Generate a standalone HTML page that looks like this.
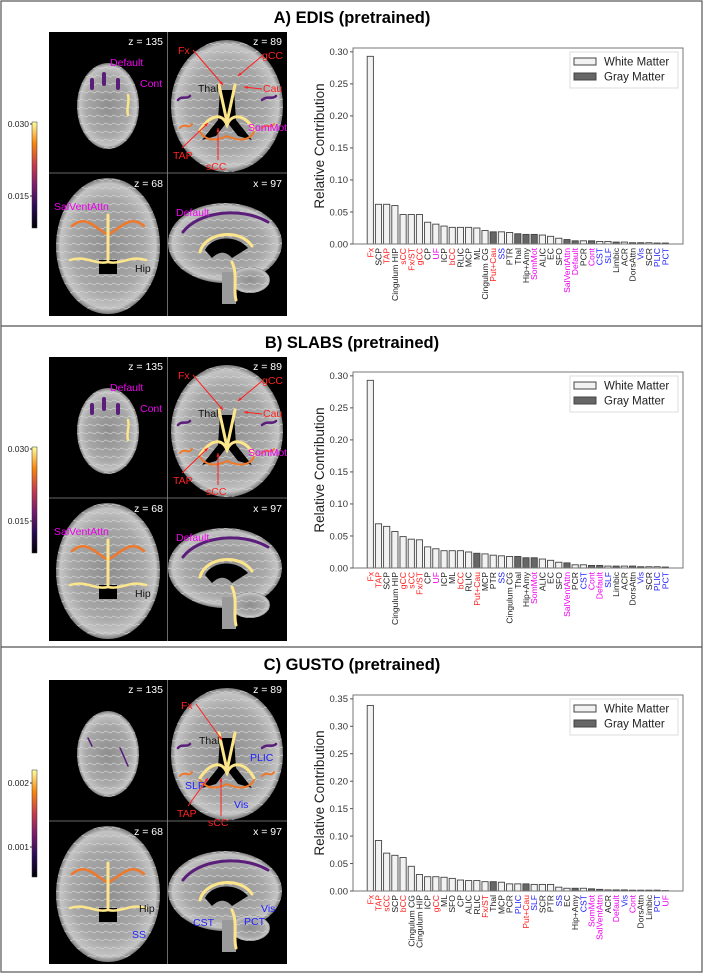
<!DOCTYPE html>
<html><head><meta charset="utf-8">
<style>
html,body{margin:0;padding:0;background:#fff;}
svg{display:block;font-family:"Liberation Sans",sans-serif;}
</style></head>
<body>
<svg id="fig" width="704" height="974" viewBox="0 0 704 974" xmlns="http://www.w3.org/2000/svg">
<defs>
<linearGradient id="inferno" x1="0" y1="1" x2="0" y2="0">
<stop offset="0" stop-color="#000004"/><stop offset="0.2" stop-color="#2a0b57"/>
<stop offset="0.4" stop-color="#7a1d6d"/><stop offset="0.6" stop-color="#c73e4c"/>
<stop offset="0.8" stop-color="#f8870e"/><stop offset="1" stop-color="#fcffa4"/>
</linearGradient>
<radialGradient id="brainG" cx="0.5" cy="0.5" r="0.5">
<stop offset="0" stop-color="#8e8e8e"/><stop offset="0.7" stop-color="#a8a8a8"/><stop offset="0.92" stop-color="#c4c4c4"/><stop offset="1" stop-color="#7a7a7a"/>
</radialGradient>
<pattern id="gyri" width="8" height="8" patternUnits="userSpaceOnUse">
<path d="M0,4 C2,1 6,7 8,4" fill="none" stroke="#d6d6d6" stroke-width="0.9" opacity="0.7"/>
</pattern>
</defs>
<rect x="1" y="1" width="701" height="971" fill="none" stroke="#555" stroke-width="1.2"/>
<line x1="1" y1="326" x2="702" y2="326" stroke="#555" stroke-width="1.2"/>
<line x1="1" y1="647" x2="702" y2="647" stroke="#555" stroke-width="1.2"/>
<g id="root"></g>
</svg>
<script>
const catsA = ["Fx","SCP","TAP","Cingulum HIP","sCC","Fx/ST","gCC","CP","UF","ICP","bCC","RLIC","MCP","ML","Cingulum CG","Put+Cau","SS","PTR","Thal","Hip+Amy","SomMot","ALIC","EC","SFO","SalVentAttn","Default","PCR","Cont","CST","SLF","Limbic","ACR","DorsAttn","Vis","SCR","PLIC","PCT"];
const valsA = [0.293,0.062,0.062,0.060,0.046,0.046,0.046,0.034,0.031,0.028,0.026,0.026,0.026,0.025,0.021,0.019,0.019,0.018,0.016,0.015,0.015,0.014,0.012,0.009,0.007,0.005,0.005,0.005,0.004,0.004,0.003,0.003,0.002,0.002,0.002,0.0015,0.0015];
const catsB = ["Fx","TAP","SCP","Cingulum HIP","gCC","sCC","Fx/ST","CP","UF","ICP","ML","bCC","RLIC","Put+Cau","MCP","PTR","SS","Cingulum CG","Thal","Hip+Amy","SomMot","ALIC","EC","SFO","SalVentAttn","PCR","CST","Cont","Default","SLF","Limbic","ACR","DorsAttn","Vis","SCR","PLIC","PCT"];
const valsB = [0.293,0.069,0.065,0.057,0.049,0.045,0.044,0.033,0.030,0.027,0.027,0.027,0.025,0.023,0.022,0.020,0.019,0.018,0.018,0.016,0.016,0.014,0.012,0.009,0.008,0.005,0.005,0.004,0.004,0.003,0.003,0.003,0.003,0.002,0.002,0.002,0.0015];
const catsC = ["Fx","TAP","sCC","SCP","bCC","Cingulum CG","Cingulum HIP","ICP","gCC","ML","SFO","CP","ALIC","RLIC","Fx/ST","Thal","MCP","PCR","PLIC","Put+Cau","SLF","SCR","PTR","SS","EC","Hip+Amy","CST","SomMot","SalVentAttn","ACR","Default","Vis","Cont","DorsAttn","Limbic","PCT","UF"];
const valsC = [0.338,0.092,0.069,0.065,0.061,0.045,0.030,0.026,0.026,0.025,0.023,0.020,0.019,0.019,0.017,0.017,0.016,0.013,0.013,0.013,0.012,0.012,0.012,0.007,0.005,0.005,0.005,0.004,0.003,0.002,0.002,0.002,0.0015,0.0015,0.0015,0.0015,0.0008];
const ticksAB = [0,0.05,0.10,0.15,0.20,0.25,0.30];
const ticksC = [0,0.05,0.10,0.15,0.20,0.25,0.30,0.35];
const grayMatter = ["Put+Cau","Thal","Hip+Amy","SomMot","SalVentAttn","Default","Cont","Limbic","DorsAttn","Vis"];
const redLabels = ["Fx","TAP","sCC","Fx/ST","gCC","bCC","Put+Cau"];
const magentaLabels = ["UF","SomMot","SalVentAttn","Default","Cont"];
const blueLabels = ["SS","CST","SLF","Vis","PLIC","PCT"];

const NS="http://www.w3.org/2000/svg";
const root=document.getElementById('root');
function mk(tag,attrs,parent,text){const e=document.createElementNS(NS,tag);for(const k in attrs)e.setAttribute(k,attrs[k]);if(text!==undefined)e.textContent=text;(parent||root).appendChild(e);return e;}
function labelColor(c){if(redLabels.includes(c))return"#ff2020";if(magentaLabels.includes(c))return"#ee00ee";if(blueLabels.includes(c))return"#2020ff";return"#222";}

function drawChart(oy,cats,vals,ticks,ymax,g){
  const L=353,R=683,T=48+oy,B=244+oy;
  const y=v=>B-(v/ymax)*(B-T);
  const x0=370.3,step=(665.3-370.3)/(cats.length-1);
  const x=i=>x0+i*step;
  const bw=6.2;
  cats.forEach((c,i)=>{
    const gm=grayMatter.includes(c);
    const r=mk('rect',{x:x(i)-bw/2,y:y(vals[i]),width:bw,height:B-y(vals[i]),fill:gm?'#666':'#f2f2f2',stroke:'#444','stroke-width':0.9},g);
    
    
    const t=mk('text',{x:0,y:0,transform:`translate(${x(i)+3},${B+4}) rotate(-90)`,'text-anchor':'end','font-size':8.6,fill:labelColor(c)},g,c);
    
    
  });
  const fr=mk('rect',{x:L,y:T,width:R-L,height:B-T,fill:'none',stroke:'#777','stroke-width':1},g);
  
  
  ticks.forEach(v=>{
    mk('line',{x1:L-3,x2:L,y1:y(v),y2:y(v),stroke:'#555'},g);
    const t=mk('text',{x:L-5,y:y(v)+3.3,'text-anchor':'end','font-size':9.5,fill:'#333'},g,v.toFixed(2));
    
    
  });
  const yl=mk('text',{transform:`translate(${L-29},${(T+B)/2}) rotate(-90)`,'text-anchor':'middle','font-size':13.5,fill:'#222'},g,'Relative Contribution');
  
  
  const lg=mk('g',{},g);
  
  
  mk('rect',{x:570,y:T+4,width:108,height:36,fill:'#fff',stroke:'#ddd'},lg);
  mk('rect',{x:574,y:T+10,width:22,height:7,fill:'#f2f2f2',stroke:'#444'},lg);
  mk('text',{x:604,y:T+17.5,'font-size':11.5,fill:'#222'},lg,'White Matter');
  mk('rect',{x:574,y:T+25,width:22,height:7,fill:'#666',stroke:'#444'},lg);
  mk('text',{x:604,y:T+32.5,'font-size':11.5,fill:'#222'},lg,'Gray Matter');
}

function blob(g,d,col,w){mk('path',{d:d,fill:'none',stroke:col,'stroke-width':w,'stroke-linecap':'round'},g);}
function arrow(g,x1,y1,x2,y2){mk('line',{x1,y1,x2,y2,stroke:'#ff2020','stroke-width':1},g);
  const a=Math.atan2(y2-y1,x2-x1),s=4;
  mk('path',{d:`M${x2},${y2} L${x2-s*Math.cos(a-0.4)},${y2-s*Math.sin(a-0.4)} L${x2-s*Math.cos(a+0.4)},${y2-s*Math.sin(a+0.4)}Z`,fill:'#ff2020'},g);}
function txt(g,x,y,s,c,anchor){return mk('text',{x,y,'font-size':10.5,fill:c,'text-anchor':anchor||'start'},g,s);}
function brainShape(g,tag,attrs){mk(tag,Object.assign({fill:'url(#brainG)'},attrs),g);mk(tag,Object.assign({fill:'url(#gyri)'},attrs),g);}

function drawBrains(oy,variant,cbTop,cbBot,cbLabels){
  const g=mk('g',{transform:`translate(0,${oy})`});
  
  
  mk('rect',{x:49,y:32,width:238,height:284,fill:'#000'},g);
  brainShape(g,'ellipse',{cx:108,cy:106,rx:31,ry:43});
  brainShape(g,'ellipse',{cx:227,cy:106,rx:56,ry:66});
  brainShape(g,'ellipse',{cx:108,cy:246,rx:52,ry:68});
  brainShape(g,'ellipse',{cx:225,cy:243,rx:57,ry:40});
  brainShape(g,'ellipse',{cx:250,cy:280,rx:20,ry:13});
  mk('rect',{x:222,y:272,width:14,height:32,fill:'#9a9a9a'},g);
  mk('line',{x1:167.5,y1:32,x2:167.5,y2:316,stroke:'#888','stroke-width':0.8},g);
  mk('line',{x1:49,y1:173,x2:287,y2:173,stroke:'#888','stroke-width':0.8},g);
  mk('path',{d:'M220,90 L234,90 L236,120 L252,140 L238,136 L227,122 L216,136 L202,140 L218,120Z',fill:'#000'},g);
  mk('rect',{x:99,y:260,width:18,height:14,fill:'#000'},g);
  mk('path',{d:'M205,250 C212,236 236,234 248,248 L232,258 C225,250 218,252 212,258Z',fill:'#000'},g);
  const y1='#fce58a',o='#f0782a',p='#5a1e7a';
  blob(g,'M200,130 C210,115 222,112 227,125 C232,112 246,115 254,130',y1,3);
  blob(g,'M200,132 C205,140 215,142 227,136 C240,142 250,140 254,132',o,2);
  blob(g,'M219,85 L227,122 L235,85',y1,3);
  blob(g,'M178,100 C182,95 186,100 190,96 M262,100 C268,95 272,100 276,96',p,2.5);
  blob(g,'M180,128 C185,122 188,130 192,124 M262,128 C268,122 270,130 274,124',o,2);
  blob(g,'M72,226 C85,215 92,225 108,235 C124,225 131,215 144,226',o,2.5);
  blob(g,'M108,215 L108,260',y1,3);
  blob(g,'M70,260 C85,255 95,265 108,262 C121,265 131,255 146,260',y1,2.5);
  blob(g,'M200,252 C205,232 240,228 252,246',y1,3);
  blob(g,'M183,232 C198,212 240,206 268,222',p,3);
  blob(g,'M232,262 C238,275 233,290 236,300',y1,3);
  if(variant!=='C'){
    blob(g,'M92,80 L92,88 M104,74 L104,84 M118,80 L118,88',p,4);
    blob(g,'M128,95 C130,102 126,108 128,115',y1,2.5);
  }else{
    blob(g,'M88,90 L92,98 M120,100 C124,108 126,114 128,118',p,1.5);
  }
  const zs=[[163,45,'z = 135'],[282,45,'z = 89'],[163,187,'z = 68'],[282,187,'x = 97']];
  zs.forEach(z=>{const t=txt(g,z[0],z[1],z[2],'#fff','end');});
  if(variant!=='C'){
    txt(g,110,66,'Default','#ee00ee');
    txt(g,140,87,'Cont','#ee00ee');
    txt(g,178,54,'Fx','#ff2020'); arrow(g,193,50,223,85);
    txt(g,262,59,'gCC','#ff2020'); arrow(g,262,56,238,76);
    txt(g,198,92,'Thal','#111');
    txt(g,263,92,'Cau','#ff2020'); arrow(g,262,89,244,87);
    txt(g,248,131,'SomMot','#ee00ee');
    txt(g,173,159,'TAP','#ff2020'); arrow(g,182,148,208,123);
    txt(g,206,170,'sCC','#ff2020'); arrow(g,218,160,218,128);
    txt(g,54,210,'SalVentAttn','#ee00ee');
    txt(g,135,272,'Hip','#111');
    txt(g,176,216,'Default','#ee00ee');
  }else{
    txt(g,181,61,'Fx','#ff2020'); arrow(g,196,56,222,92);
    txt(g,199,96,'Thal','#111');
    txt(g,250,113,'PLIC','#2020ff');
    txt(g,185,141,'SLF','#2020ff');
    txt(g,177,169,'TAP','#ff2020'); arrow(g,188,158,208,130);
    txt(g,208,178,'sCC','#ff2020'); arrow(g,221,168,221,130);
    txt(g,234,160,'Vis','#2020ff');
    txt(g,139,264,'Hip','#111');
    txt(g,132,290,'SS','#2020ff');
    txt(g,193,278,'CST','#2020ff');
    txt(g,244,277,'PCT','#2020ff');
    txt(g,261,264,'Vis','#2020ff');
  }
  const cb=mk('rect',{x:32,y:cbTop,width:5,height:cbBot-cbTop,fill:'url(#inferno)',stroke:'#333','stroke-width':0.5},g);
  
  
  cbLabels.forEach(l=>{mk('line',{x1:30,x2:32,y1:l[1],y2:l[1],stroke:'#333'},g);txt(g,29,l[1]+3,l[0],'#222','end').setAttribute('font-size','8.5');});
}

function title(y,s){const t=mk('text',{x:352,y:y,'text-anchor':'middle','font-size':16.5,'font-weight':'bold',fill:'#000'},root,s);}

title(23,'A) EDIS (pretrained)');
title(348,'B) SLABS (pretrained)');
title(670,'C) GUSTO (pretrained)');
drawBrains(0,'A',122,228,[['0.030',124],['0.015',196]]);
drawBrains(325,'B',122,228,[['0.030',124],['0.015',196]]);
drawBrains(648,'C',-648+770,-648+877,[['0.002',-648+783],['0.001',-648+847]]);
const gA=mk('g',{});
const gB=mk('g',{});
const gC=mk('g',{});
drawChart(0,catsA,valsA,ticksAB,0.306,gA);
drawChart(324,catsB,valsB,ticksAB,0.306,gB);
drawChart(647,catsC,valsC,ticksC,0.357,gC);
</script>
</body></html>
